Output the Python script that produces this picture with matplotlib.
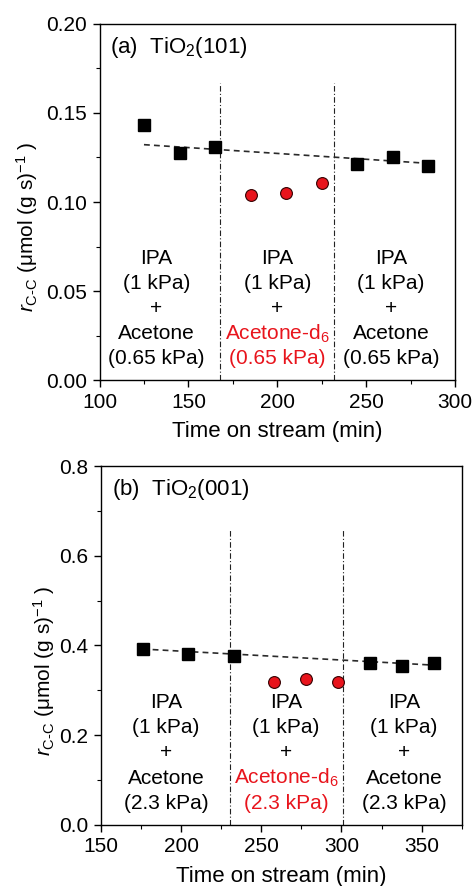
import matplotlib
matplotlib.use("Agg")
import matplotlib.pyplot as plt
import matplotlib.transforms as mtransforms
from matplotlib.ticker import MultipleLocator, FormatStrFormatter

plt.rcParams['font.family'] = ['Liberation Sans', 'DejaVu Sans']
plt.rcParams['mathtext.fontset'] = 'custom'
plt.rcParams['mathtext.rm'] = 'Liberation Sans'
plt.rcParams['mathtext.it'] = 'Liberation Sans:italic'
plt.rcParams['font.size'] = 15

# (a) TiO2(101)
a_sq_x = [125, 145, 165, 245, 265, 285]
a_sq_y = [0.1431, 0.1277, 0.1311, 0.1213, 0.1251, 0.1200]
a_ci_x = [185, 205, 225]
a_ci_y = [0.1037, 0.1052, 0.1105]
a_trend_x = [125, 285]
a_trend_y = [0.1322, 0.1217]
a_switch = [168, 232]
a_pressure = "(0.65 kPa)"
a_block_x = [132, 200, 264]

# (b) TiO2(001)
b_sq_x = [176, 204, 233, 318, 338, 358]
b_sq_y = [0.392, 0.382, 0.376, 0.361, 0.355, 0.361]
b_ci_x = [258, 278, 298]
b_ci_y = [0.318, 0.325, 0.318]
b_trend_x = [176, 358]
b_trend_y = [0.392, 0.356]
b_switch = [230.5, 301]
b_pressure = "(2.3 kPa)"
b_block_x = [190.5, 265.5, 339]

red = '#e8141c'

fig = plt.figure(figsize=(4.74, 8.86), dpi=100)
ax1 = fig.add_axes([0.210, 0.571, 0.750, 0.402])
ax2 = fig.add_axes([0.213, 0.069, 0.761, 0.405])


def panel(ax, sq_x, sq_y, ci_x, ci_y, tr_x, tr_y, switch, vtop, pressure,
          block_x, label):
    ax.plot(tr_x, tr_y, ls=(0, (3.5, 2.5)), color='#2a2a2a', lw=1.2, zorder=2)
    ax.vlines(switch, 0, vtop, colors='#222222', linestyles=(0, (5, 2, 1, 2)),
              lw=0.8, zorder=1)
    ax.plot(sq_x, sq_y, 's', ms=8.5, color='black', zorder=3)
    ax.plot(ci_x, ci_y, 'o', ms=8.5, mfc=red, mec='#330000', mew=0.8, zorder=3)

    trans = mtransforms.blended_transform_factory(ax.transData, ax.transAxes)
    for k, bx in enumerate(block_x):
        lines = ['IPA', '(1 kPa)', '+',
                 'Acetone-d$_6$' if k == 1 else 'Acetone', pressure]
        for i, t in enumerate(lines):
            c = red if (k == 1 and i >= 3) else 'black'
            ax.text(bx, 0.342 - i * 0.0705, t, transform=trans, ha='center',
                    va='center', color=c, fontsize=15)

    ax.text(0.03, 0.935, label, transform=ax.transAxes, ha='left',
            va='center', fontsize=16)
    ax.set_xlabel('Time on stream (min)', fontsize=16, labelpad=7)
    ax.set_ylabel(r'$r_{\mathrm{C}\text{-}\mathrm{C}}$ ($\mathrm{\mu}$mol (g s)$^{-1}$ )',
                  fontsize=15)
    ax.tick_params(which='major', direction='out', length=5, width=1,
                   labelsize=15, pad=4)
    ax.tick_params(which='minor', direction='out', length=3, width=0.8)
    for s in ax.spines.values():
        s.set_linewidth(1)


panel(ax1, a_sq_x, a_sq_y, a_ci_x, a_ci_y, a_trend_x, a_trend_y, a_switch,
      0.167, a_pressure, a_block_x, r'(a)  TiO$_2$(101)')
ax1.set_xlim(100, 300)
ax1.set_ylim(0, 0.20)
ax1.xaxis.set_major_locator(MultipleLocator(50))
ax1.xaxis.set_minor_locator(MultipleLocator(25))
ax1.yaxis.set_major_locator(MultipleLocator(0.05))
ax1.yaxis.set_minor_locator(MultipleLocator(0.025))
ax1.yaxis.set_major_formatter(FormatStrFormatter('%.2f'))
ax1.yaxis.set_label_coords(-0.167, 0.43)

panel(ax2, b_sq_x, b_sq_y, b_ci_x, b_ci_y, b_trend_x, b_trend_y, b_switch,
      0.657, b_pressure, b_block_x, r'(b)  TiO$_2$(001)')
ax2.set_xlim(150, 375)
ax2.set_ylim(0, 0.8)
ax2.xaxis.set_major_locator(MultipleLocator(50))
ax2.xaxis.set_minor_locator(MultipleLocator(25))
ax2.yaxis.set_major_locator(MultipleLocator(0.2))
ax2.yaxis.set_minor_locator(MultipleLocator(0.1))
ax2.yaxis.set_major_formatter(FormatStrFormatter('%.1f'))
ax2.yaxis.set_label_coords(-0.123, 0.43)

fig.savefig('out.png', dpi=100)
